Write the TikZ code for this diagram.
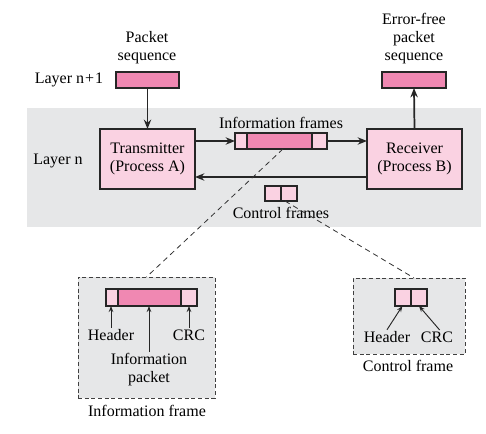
\documentclass[tikz,border=0pt]{standalone}
\usepackage{fontspec}
\setmainfont{Liberation Serif}
\usetikzlibrary{arrows.meta}
\definecolor{dpink}{RGB}{240,136,178}
\definecolor{lpink}{RGB}{250,210,226}
\definecolor{bandgray}{RGB}{230,231,232}
\tikzset{
  box/.style={draw=black!85,line width=0.9pt,inner sep=0pt,outer sep=0pt},
  dk/.style={box,fill=dpink},
  lt/.style={box,fill=lpink},
  lbl/.style={font=\fontsize{12}{13.5}\selectfont,align=center,inner sep=1pt},
  marrow/.style={line width=1.3pt,draw=black!85,-{Stealth[length=7pt,width=5.5pt]}},
  sarrow/.style={line width=0.7pt,draw=black!85,-{Stealth[length=4.5pt,width=3.4pt]}},
  dline/.style={line width=0.6pt,draw=black!80,dash pattern=on 4pt off 3pt},
  dbox/.style={draw=black!75,line width=0.7pt,dash pattern=on 3pt off 2pt,fill=bandgray,inner sep=0pt,outer sep=0pt}
}
\begin{document}
\begin{tikzpicture}[x=0.75pt,y=-0.75pt]
\useasboundingbox (0,0) rectangle (486,434);
% band
\fill[bandgray] (27,108) rectangle (481,227);
% top boxes
\node[dk,minimum width=47.25pt,minimum height=12pt] (pk) at (147.5,80) {};
\node[dk,minimum width=48pt,minimum height=12pt] (ef) at (414,80) {};
\node[lbl] (pkt) at (147,48) {Packet\\sequence};
\node[lbl] (eft) at (414,39) {Error-free\\packet\\sequence};
\node[lbl] (ln1) at (69,80) {Layer n\kern0.8pt+\kern0.8pt1};
\node[lbl] (ln) at (58,161) {Layer n};
% processes
\node[lt,minimum width=71.25pt,minimum height=45pt,lbl,inner sep=0pt] (tx) at (147.5,159) {Transmitter\\(Process A)};
\node[lt,minimum width=71.25pt,minimum height=45pt,lbl,inner sep=0pt] (rx) at (414.5,159) {Receiver\\(Process B)};
% information frame (middle)
\node[lt,minimum width=9pt,minimum height=12pt] (ih) at (241,141) {};
\node[dk,minimum width=48.75pt,minimum height=12pt] (ip) at (279.5,141) {};
\node[lt,minimum width=11.25pt,minimum height=12pt] (ic) at (319.5,141) {};
\node[lbl] (ift) at (281,123) {Information frames};
% control frame (middle)
\node[lt,minimum width=12pt,minimum height=11.25pt] (ch) at (273,193.5) {};
\node[lt,minimum width=12pt,minimum height=11.25pt] (cc) at (289,193.5) {};
\node[lbl] (cft) at (281,213) {Control frames};
% arrows
\draw[marrow] (pk.south) -- (tx.north);
\draw[marrow] (rx.north) -- (ef.south);
\draw[marrow] (tx.east |- ih.west) -- (ih.west);
\draw[marrow] (ic.east) -- (rx.west |- ic.east);
\draw[marrow] ([yshift=-13.5pt]rx.west) -- ([yshift=-13.5pt]tx.east);
% detail boxes
\node[dbox,minimum width=102.75pt,minimum height=90.75pt] (lbox) at (146.5,337.5) {};
\node[dbox,minimum width=84pt,minimum height=57pt] (rbox) at (409,316) {};
\draw[dline] ([xshift=2.6pt]ip.south) -- (lbox.north);
\draw[dline] ([xshift=-3pt]cc.south) -- ([xshift=3.75pt]rbox.north);
% information frame detail
\node[lt,minimum width=9pt,minimum height=12.75pt] (ih2) at (112,297.5) {};
\node[dk,minimum width=47.25pt,minimum height=12.75pt] (ip2) at (149.5,297.5) {};
\node[lt,minimum width=12pt,minimum height=12.75pt] (ic2) at (189,297.5) {};
\node[lbl] (hd1) at (111,335) {Header};
\node[lbl] (cr1) at (189,335) {CRC};
\node[lbl] (ipk) at (149,370) {Information\\packet};
\node[lbl] (ifr) at (147,411) {Information frame};
\draw[sarrow] (hd1.north) -- (hd1.north |- ih2.south);
\draw[sarrow] (ipk.north) -- (ipk.north |- ip2.south);
\draw[sarrow] (cr1.north) -- (cr1.north |- ic2.south);
% control frame detail
\node[lt,minimum width=12pt,minimum height=12.75pt] (ch2) at (403,297.5) {};
\node[lt,minimum width=12pt,minimum height=12.75pt] (cc2) at (419,297.5) {};
\node[lbl] (hd2) at (387,337) {Header};
\node[lbl] (cr2) at (437,337) {CRC};
\node[lbl] (cfr) at (408,366) {Control frame};
\draw[sarrow] (hd2.north) -- ([xshift=-0.5pt]ch2.south);
\draw[sarrow] ([xshift=2pt]cr2.north) -- (cc2.south);
\end{tikzpicture}
\end{document}
